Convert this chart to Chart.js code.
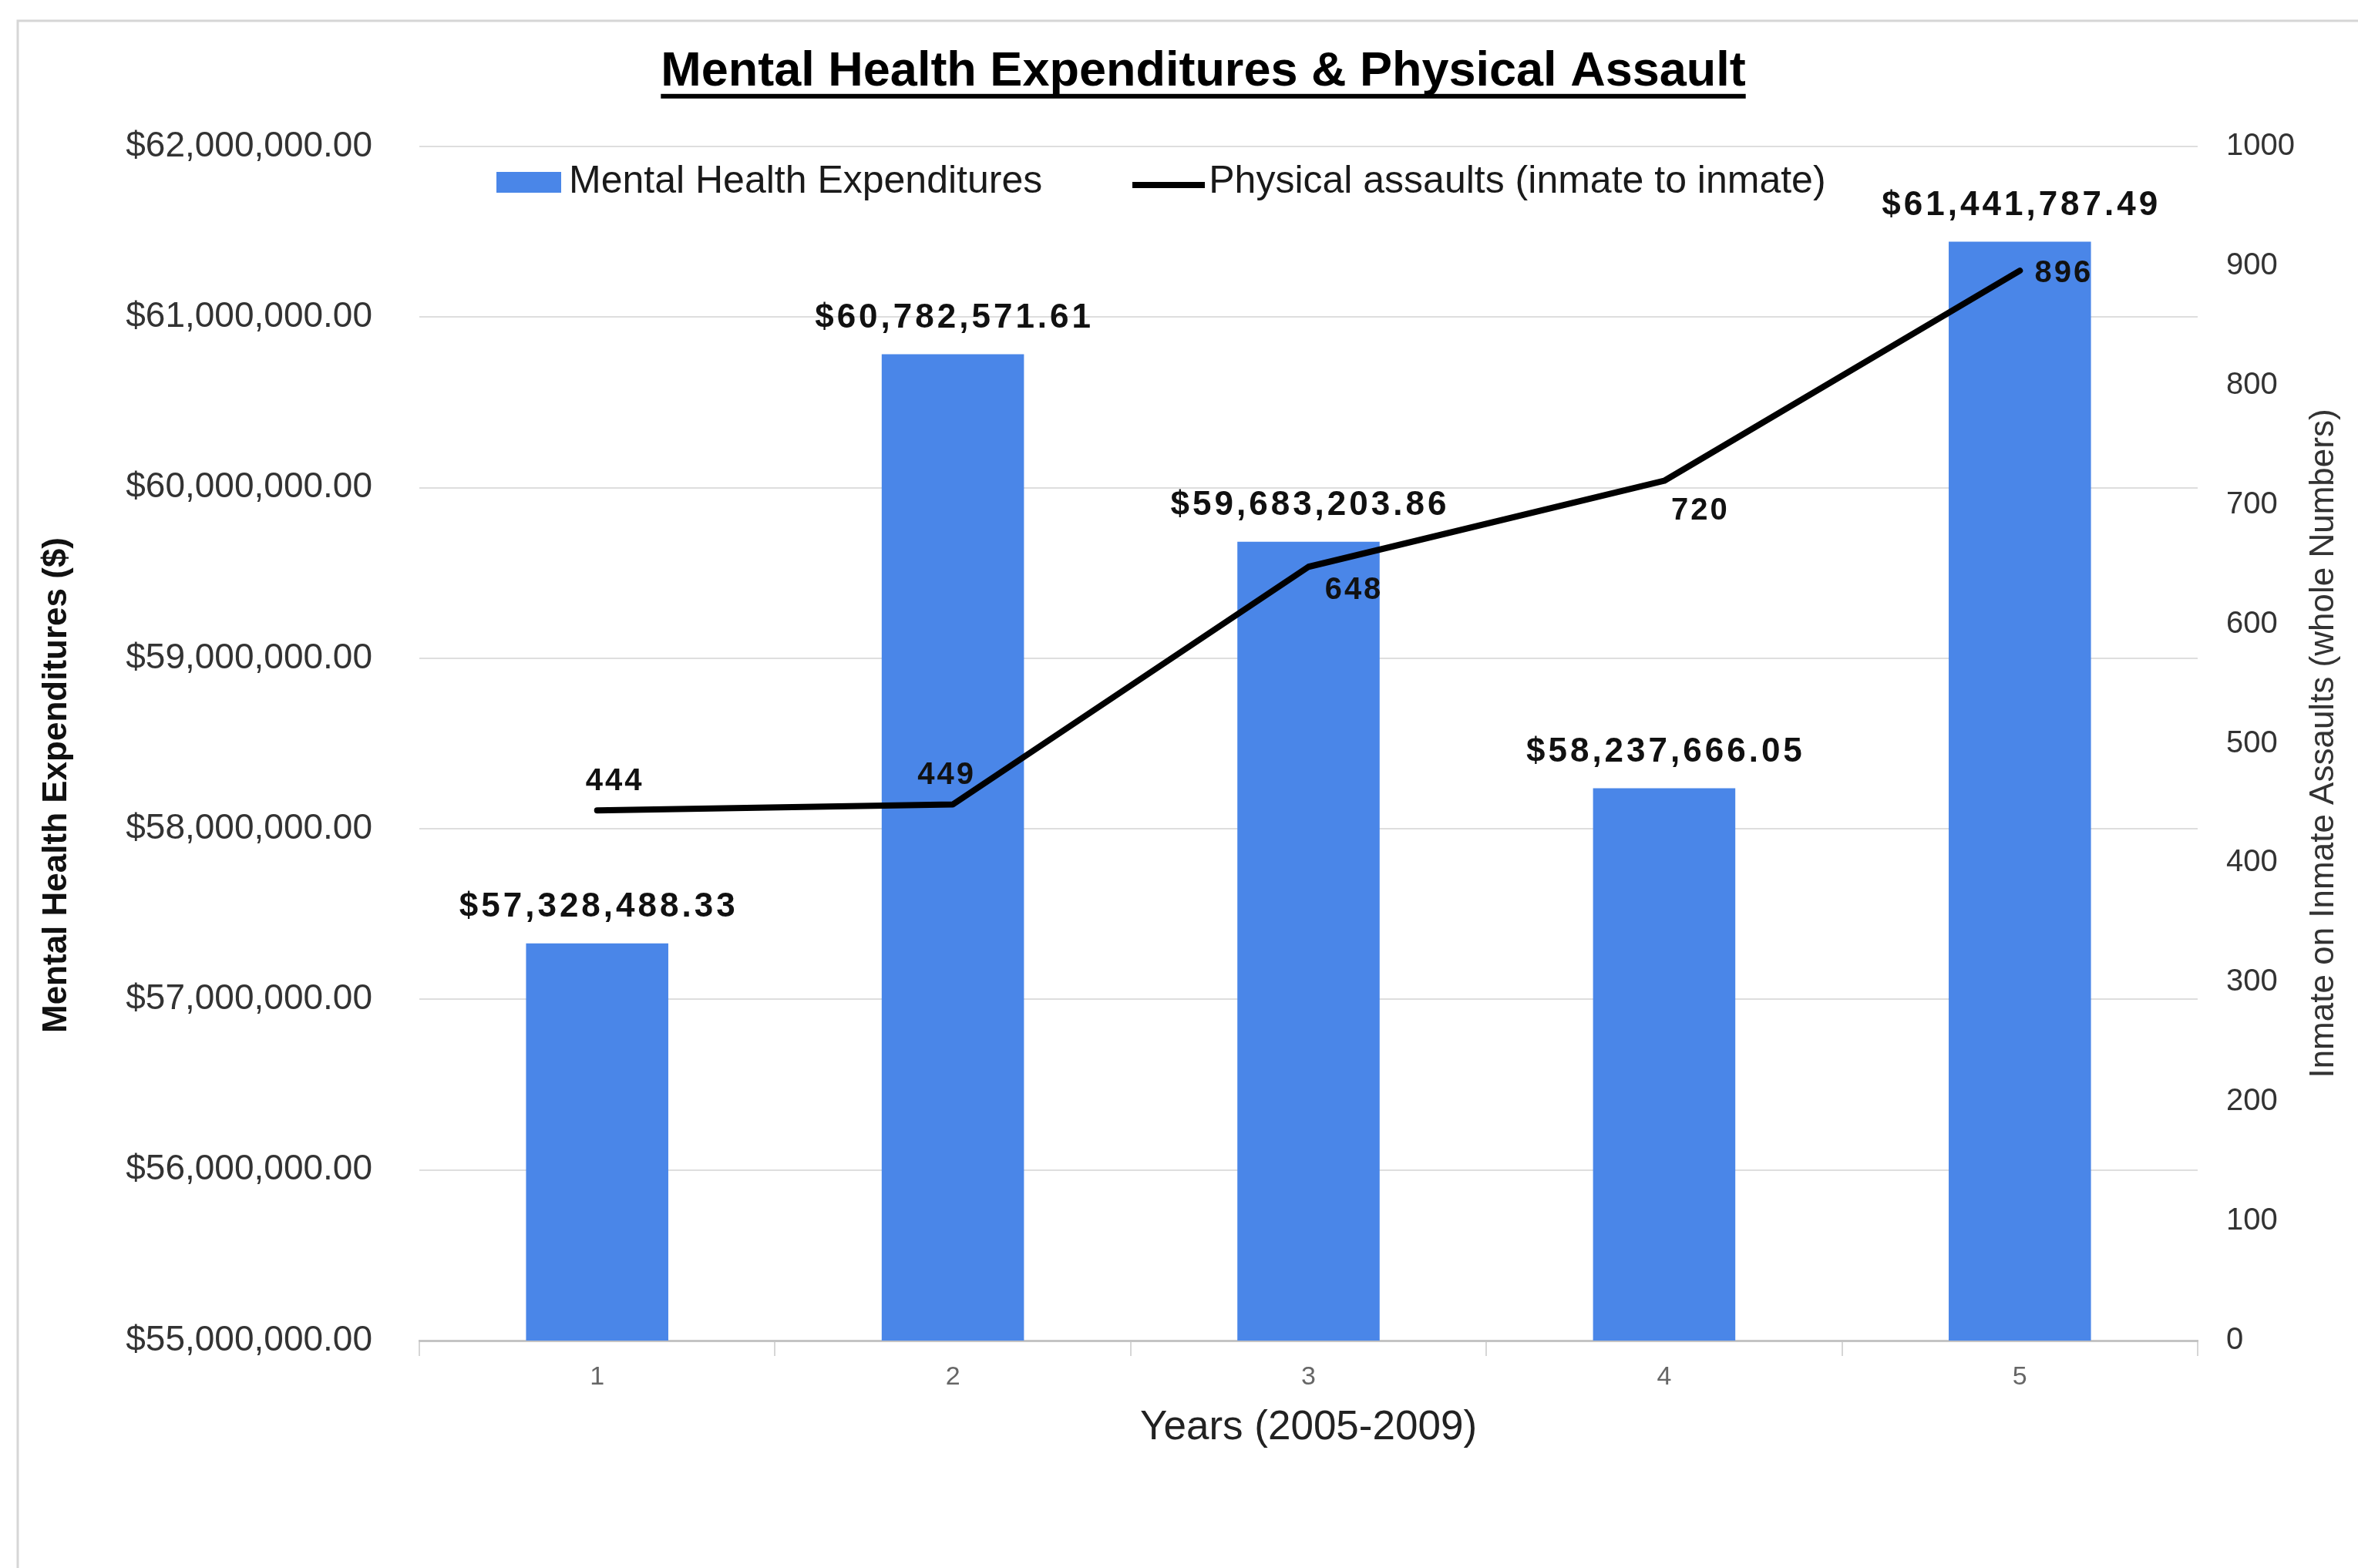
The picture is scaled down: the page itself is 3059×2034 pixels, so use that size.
<!DOCTYPE html>
<html>
<head>
<meta charset="utf-8">
<style>html,body{margin:0;padding:0;background:#fff}canvas{display:block}</style>
<script src="https://cdn.jsdelivr.net/npm/chart.js@4.4.1/dist/chart.umd.min.js"></script>
</head>
<body>
<canvas id="c" width="3059" height="2034" style="width:3059px;height:2034px"></canvas>
<script>
// ---- data ----
const years = ['1', '2', '3', '4', '5'];
const expenditures = [57328488.33, 60782571.61, 59683203.86, 58237666.05, 61441787.49];
const assaults = [444, 449, 648, 720, 896];
const expAxisMin = 55000000, expAxisMax = 62000000, expAxisStep = 1000000;
const assaultAxisMin = 0, assaultAxisMax = 1000, assaultAxisStep = 100;
const chartTitle = 'Mental Health Expenditures & Physical Assault';
const seriesNames = ['Mental Health Expenditures', 'Physical assaults (inmate to inmate)'];
const xTitle = 'Years (2005-2009)';
const yLeftTitle = 'Mental Health Expenditures ($)';
const yRightTitle = 'Inmate on Inmate Assaults (whole Numbers)';

// ---- styles ----
const FAMILY = '"Liberation Sans", Arial, Helvetica, sans-serif';
const BLUE = '#4a86e8';
const lineLabelOffsets = [[23, -37], [-8, -38], [59, 31], [47, 39], [57, 4]];
const BAR_LABEL_GAP = 47;

function fmtMoney(v) {
  return '$' + Number(v).toFixed(2).replace(/\B(?=(\d{3})+(?!\d))/g, ',');
}

function makeSwatch(w, h, color, y0, y1) {
  const c = document.createElement('canvas');
  c.width = w; c.height = h;
  const g = c.getContext('2d');
  g.fillStyle = color;
  g.fillRect(0, y0, w, y1 - y0);
  return c;
}
const barSwatch = makeSwatch(84, 27, BLUE, 0, 27);
const lineSwatch = makeSwatch(94, 24, '#000', 12, 20);

const framePlugin = {
  id: 'frame',
  beforeDraw(chart) {
    const ctx = chart.ctx;
    ctx.save();
    ctx.fillStyle = '#fff';
    ctx.fillRect(0, 0, chart.width, chart.height);
    ctx.strokeStyle = '#d6d6d6';
    ctx.lineWidth = 3;
    ctx.beginPath();
    ctx.moveTo(23, chart.height);
    ctx.lineTo(23, 27);
    ctx.lineTo(chart.width, 27);
    ctx.stroke();
    ctx.restore();
  }
};

const shiftPlugin = {
  id: 'shiftBoxes',
  afterLayout(chart) {
    const lg = chart.legend;
    if (lg) {
      const pad = lg.options.labels.padding;
      const itemH = lg.options.labels.font.size;
      const dy = 236 - (lg.top + pad + itemH / 2);
      lg.top += dy;
      lg.bottom = lg.top + pad + itemH + 60;
      lg.height = lg.bottom - lg.top;
      const rowW = (lg.lineWidths && lg.lineWidths[0]) ? lg.lineWidths[0] - pad : 0;
      const dx = 659 + rowW / 2 - (lg.left + lg.right) / 2;
      lg.left += dx; lg.right += dx;
    }
    const tb = chart.titleBlock;
    if (tb) {
      const dx = 1561 - (tb.left + tb.right) / 2;
      tb.left += dx; tb.right += dx;
    }
  }
};

const decorPlugin = {
  id: 'decor',
  afterDraw(chart) {
    const ctx = chart.ctx;
    const ca = chart.chartArea;
    ctx.save();
    // title underline
    const tb = chart.titleBlock;
    if (tb) {
      const f = tb.options.font;
      ctx.font = 'bold ' + f.size + 'px ' + FAMILY;
      const w = ctx.measureText(chartTitle).width;
      const cx = (tb.left + tb.right) / 2;
      const cy = tb.top + tb.options.padding.top + f.size * f.lineHeight / 2;
      ctx.fillStyle = '#000';
      ctx.fillRect(cx - w / 2, cy + 28, w, 6);
    }
    // axis titles
    const yl = chart.scales.y, yr = chart.scales.y1;
    const midY = (ca.top + ca.bottom) / 2;
    ctx.textAlign = 'center';
    ctx.textBaseline = 'middle';
    ctx.fillStyle = '#111';
    ctx.font = 'bold 44px ' + FAMILY;
    ctx.save();
    ctx.translate(yl.left + 74, midY + 54);
    ctx.rotate(-Math.PI / 2);
    ctx.fillText(yLeftTitle, 0, 0);
    ctx.restore();
    ctx.fillStyle = '#333';
    ctx.font = '44px ' + FAMILY;
    ctx.save();
    ctx.translate(yr.right - 44, midY);
    ctx.rotate(-Math.PI / 2);
    ctx.fillText(yRightTitle, 0, 0);
    ctx.restore();
    ctx.restore();
  }
};

const valueLabels = {
  id: 'valueLabels',
  afterDatasetsDraw(chart) {
    const ctx = chart.ctx;
    ctx.save();
    ctx.textAlign = 'center';
    ctx.textBaseline = 'middle';
    ctx.fillStyle = '#111';
    ctx.font = 'bold 44px ' + FAMILY;
    ctx.letterSpacing = '4px';
    chart.getDatasetMeta(0).data.forEach((el, i) => {
      ctx.fillText(fmtMoney(expenditures[i]), el.x + 2, el.y - BAR_LABEL_GAP);
    });
    ctx.font = 'bold 40px ' + FAMILY;
    ctx.letterSpacing = '3px';
    chart.getDatasetMeta(1).data.forEach((el, i) => {
      const o = lineLabelOffsets[i];
      ctx.fillText(String(assaults[i]), el.x + o[0], el.y + o[1]);
    });
    ctx.letterSpacing = '0px';
    ctx.restore();
  }
};

Chart.defaults.font.family = FAMILY;

new Chart(document.getElementById('c').getContext('2d'), {
  type: 'bar',
  data: {
    labels: years,
    datasets: [
      {
        type: 'bar',
        label: seriesNames[0],
        data: expenditures,
        backgroundColor: BLUE,
        yAxisID: 'y',
        order: 2,
        categoryPercentage: 1,
        barPercentage: 0.4
      },
      {
        type: 'line',
        label: seriesNames[1],
        data: assaults,
        borderColor: '#000',
        backgroundColor: '#000',
        borderWidth: 8,
        pointRadius: 0,
        pointHoverRadius: 0,
        tension: 0,
        borderJoinStyle: 'round',
        borderCapStyle: 'round',
        yAxisID: 'y1',
        order: 1
      }
    ]
  },
  options: {
    responsive: false,
    animation: false,
    devicePixelRatio: 1,
    layout: { padding: { top: 27, left: 0, right: 0, bottom: 0 } },
    plugins: {
      title: {
        display: true,
        text: chartTitle,
        color: '#000',
        font: { family: FAMILY, size: 63, weight: 'bold', lineHeight: 1.2 },
        padding: { top: 29, bottom: 0 }
      },
      legend: {
        display: true,
        position: 'top',
        maxHeight: 58.4,
        labels: {
          usePointStyle: true,
          pointStyleWidth: 54,
          padding: 137,
          color: '#1a1a1a',
          font: { family: FAMILY, size: 50 },
          generateLabels(chart) {
            const items = Chart.defaults.plugins.legend.labels.generateLabels(chart);
            items.sort((a, b) => a.datasetIndex - b.datasetIndex);
            items.forEach(it => { it.pointStyle = it.datasetIndex === 0 ? barSwatch : lineSwatch; });
            return items;
          }
        }
      },
      tooltip: { enabled: false }
    },
    scales: {
      x: {
        type: 'category',
        offset: true,
        grid: { display: true, drawOnChartArea: false, drawTicks: true, tickLength: 20, color: '#d6d6d6', lineWidth: 2, offset: true },
        border: { display: true, color: '#c4c4c4', width: 3 },
        ticks: { color: '#666', font: { family: FAMILY, size: 34 }, padding: 7 },
        title: { display: true, text: xTitle, color: '#222', font: { family: FAMILY, size: 53 }, padding: { top: 7, bottom: 149.6 } }
      },
      y: {
        position: 'left',
        min: expAxisMin,
        max: expAxisMax,
        ticks: { stepSize: expAxisStep, callback: v => fmtMoney(v), color: '#333', font: { family: FAMILY, size: 46 }, padding: 61 },
        grid: { color: '#dedede', lineWidth: 2, drawTicks: false },
        border: { display: false },
        afterFit(s) { s.width = 544; }
      },
      y1: {
        position: 'right',
        min: assaultAxisMin,
        max: assaultAxisMax,
        ticks: { stepSize: assaultAxisStep, callback: v => String(v), color: '#333', font: { family: FAMILY, size: 40 }, padding: 37 },
        grid: { display: false, drawOnChartArea: false, drawTicks: false },
        border: { display: false },
        afterFit(s) { s.width = 208; }
      }
    }
  },
  plugins: [framePlugin, shiftPlugin, valueLabels, decorPlugin]
});
</script>
</body>
</html>
